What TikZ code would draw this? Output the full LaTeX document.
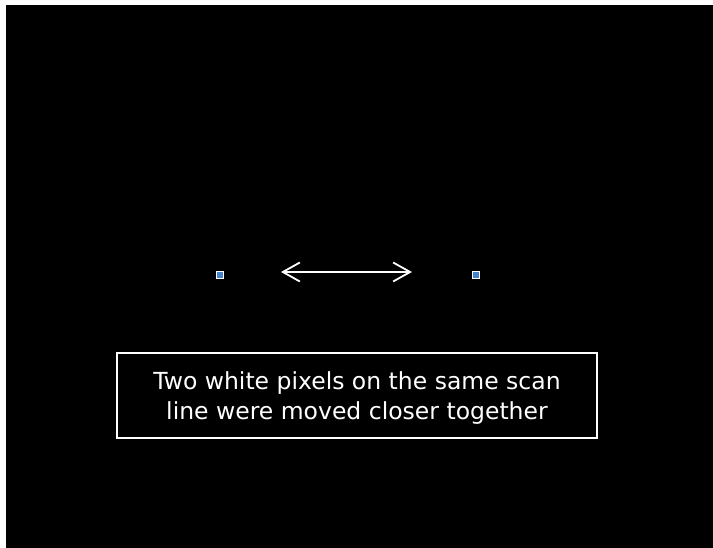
\documentclass[tikz,border=0pt]{standalone}
\usepackage{fontspec}
\setmainfont{DejaVu Sans}
\usetikzlibrary{arrows.meta}
\definecolor{pixblue}{RGB}{72,130,200}
\begin{document}
\begin{tikzpicture}[x=1pt,y=1pt,
  pix/.style={draw=white,fill=pixblue,line width=1.5pt,minimum size=7pt,inner sep=0pt},
  caption/.style={draw=white,line width=1.2pt,minimum width=480pt,minimum height=85pt},
  captext/.style={text=white,align=center,font=\fontsize{23.5}{30}\selectfont}]
\useasboundingbox (0,0) rectangle (713,548);
\fill[white] (0,0) rectangle (713,548);
\fill[black] (6,0) rectangle (713,543);
\node[pix] (p1) at (220,273) {};
\node[pix] (p2) at (476,273) {};
\coordinate (a1) at (281,276);
\coordinate (a2) at (412,276);
\draw[white,line width=2pt,{Straight Barb[length=17pt,width=19pt,line width=1.8pt]}-{Straight Barb[length=17pt,width=19pt,line width=1.8pt]}] (a1) -- (a2);
\node[caption] (cap) at (357,152.5) {};
\node[captext] (captxt) at (357,150) {Two white pixels on the same scan\\line were moved closer together};
\end{tikzpicture}
\end{document}
